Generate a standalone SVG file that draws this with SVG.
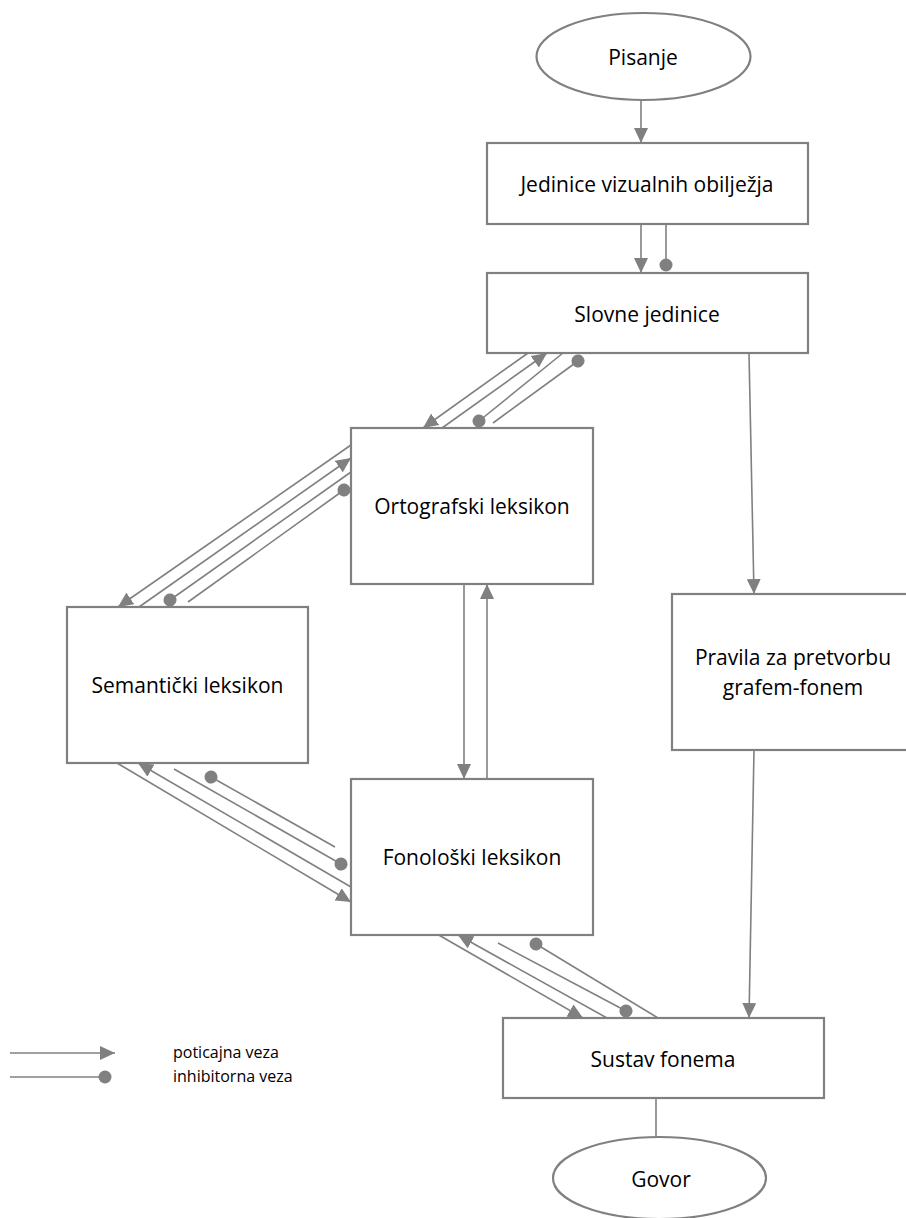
<svg xmlns="http://www.w3.org/2000/svg" width="906" height="1218" viewBox="0 0 906 1218">
<defs>
<style>
.node{fill:#fff;stroke:#808080;stroke-width:2.2}
.c{fill:none;stroke:#808080;stroke-width:1.6}
.a{marker-end:url(#arr)}
.i{marker-end:url(#dot)}
text{font-family:"Open Sans","Liberation Sans",sans-serif;font-size:21px;fill:#000;text-anchor:middle}
.lg{font-size:16px;text-anchor:start}
</style>
<marker id="arr" markerUnits="userSpaceOnUse" markerWidth="16" markerHeight="14" refX="15" refY="7" orient="auto">
<path d="M0,0 L15,7 L0,14 z" fill="#808080"/>
</marker>
<marker id="dot" markerUnits="userSpaceOnUse" markerWidth="14" markerHeight="14" refX="7" refY="7" orient="auto">
<circle cx="7" cy="7" r="6.5" fill="#808080"/>
</marker>
</defs>
<rect width="906" height="1218" fill="#fff"/>
<g id="connectors">
<path class="c a" d="M641,100 L641,143"/>
<path class="c a" d="M641,224 L641,273"/>
<path class="c i" d="M666,224 L666,265"/>
<path class="c a" d="M749,353 L754,594"/>
<path class="c a" d="M754,750 L749,1018"/>
<path class="c" d="M656,1098 L656,1137"/>
<path class="c a" d="M528,353 L423,428"/>
<path class="c a" d="M442,428 L547,353"/>
<path class="c i" d="M563,353 L479,421"/>
<path class="c i" d="M493,423 L578,361"/>
<path class="c a" d="M351,445 L118,607"/>
<path class="c a" d="M139,607 L351,458"/>
<path class="c i" d="M351,472 L170,600"/>
<path class="c i" d="M188,602 L344,490"/>
<path class="c a" d="M464,584 L464,779"/>
<path class="c a" d="M487,779 L487,584"/>
<path class="c a" d="M117,763 L351,902"/>
<path class="c a" d="M351,887 L138,763"/>
<path class="c i" d="M174,769 L341,864"/>
<path class="c i" d="M335,847 L211,777"/>
<path class="c a" d="M437,934 L583,1018"/>
<path class="c a" d="M607,1018 L458,935"/>
<path class="c i" d="M498,943 L626,1011"/>
<path class="c i" d="M658,1018 L536,944"/>
<path class="c a" d="M10,1053 L115,1053"/>
<path class="c i" d="M10,1077 L105,1077"/>
</g>
<g id="pisanje"><ellipse class="node" cx="643.5" cy="56.5" rx="107" ry="43.5"/><text x="643" y="65">Pisanje</text></g>
<g id="jedinice"><rect class="node" x="487" y="143" width="321" height="81"/><text x="647" y="192">Jedinice vizualnih obilježja</text></g>
<g id="slovne"><rect class="node" x="487" y="273" width="321" height="80"/><text x="647" y="322">Slovne jedinice</text></g>
<g id="ortografski"><rect class="node" x="351" y="428" width="242" height="156"/><text x="472" y="514">Ortografski leksikon</text></g>
<g id="semanticki"><rect class="node" x="67" y="607" width="241" height="156"/><text x="187.5" y="693">Semantički leksikon</text></g>
<g id="fonoloski"><rect class="node" x="351" y="779" width="242" height="156"/><text x="472" y="865">Fonološki leksikon</text></g>
<g id="pravila"><rect class="node" x="672" y="594" width="236" height="156"/><text x="793" y="665">Pravila za pretvorbu</text><text x="793" y="695">grafem-fonem</text></g>
<g id="sustav"><rect class="node" x="503" y="1018" width="321" height="80"/><text x="663" y="1067">Sustav fonema</text></g>
<g id="govor"><ellipse class="node" cx="659.5" cy="1178" rx="106.5" ry="41"/><text x="661" y="1187">Govor</text></g>
<g id="legend"><text class="lg" x="173" y="1058">poticajna veza</text><text class="lg" x="173" y="1082">inhibitorna veza</text></g>
</svg>
